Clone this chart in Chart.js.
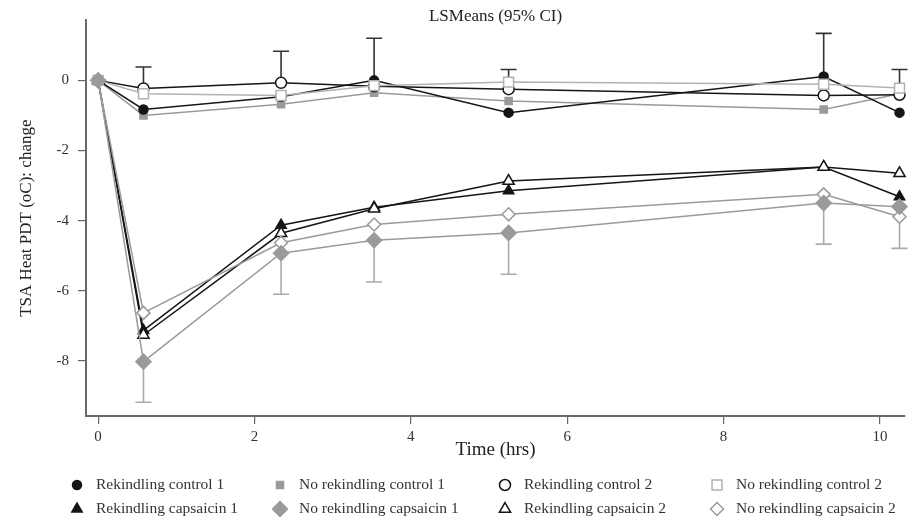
<!DOCTYPE html>
<html lang="en">
<head>
  <meta charset="UTF-8" />
  <title>LSMeans (95% CI)</title>
  <script src="https://cdn.jsdelivr.net/npm/chart.js"></script>
  <style>
    body {
      margin: 0;
      padding: 0;
      background: #ffffff;
    }
    #wrap {
      width: 908px;
      height: 522px;
    }
  </style>
</head>
<body>
  <div id="wrap"><canvas id="tsaChart" width="908" height="522"></canvas></div>

  <script>
    // time points (hrs)
    const times = [0, 0.58, 2.34, 3.53, 5.25, 9.28, 10.25];

    // LSMeans per group
    const rekControl1   = [0, -0.83, -0.47, 0.00, -0.92, 0.11, -0.92];
    const noRekControl1 = [0, -1.00, -0.68, -0.35, -0.59, -0.83, -0.38];
    const rekControl2   = [0, -0.23, -0.07, -0.17, -0.25, -0.43, -0.41];
    const noRekControl2 = [0, -0.38, -0.43, -0.15, -0.05, -0.11, -0.22];
    const rekCaps1      = [0, -7.13, -4.13, -3.62, -3.15, -2.47, -3.32];
    const noRekCaps1    = [0, -8.02, -4.93, -4.56, -4.35, -3.50, -3.60];
    const rekCaps2      = [0, -7.26, -4.36, -3.66, -2.87, -2.47, -2.65];
    const noRekCaps2    = [0, -6.63, -4.63, -4.11, -3.82, -3.25, -3.89];

    // one-sided 95% CI limits (null = not drawn)
    const ciUpperRekControl1 = [null, null, null, 1.20, null, 1.34, null];
    const ciUpperRekControl2 = [null, 0.38, 0.83, null, 0.31, null, 0.31];
    const ciLowerNoRekCaps1  = [null, -9.18, -6.10, -5.75, -5.53, -4.67, -4.79];

    // axis ticks
    const xTicks = [0, 2, 4, 6, 8, 10];
    const yTicks = [0, -2, -4, -6, -8];

    const BLACK = '#151515';
    const GRAY = '#9a9a9a';
    const LIGHT = '#b2b2b2';
    const SERIF = "'Liberation Serif', 'DejaVu Serif', serif";

    const pts = arr => arr.map((v, i) => ({ x: times[i], y: v }));

    function series(label, values, opts) {
      return Object.assign({
        label: label,
        data: pts(values),
        borderWidth: 1.5,
        pointBorderWidth: 1.5,
        tension: 0,
        clip: false
      }, opts);
    }

    const datasets = [
      series('Rekindling control 1', rekControl1, {
        borderColor: BLACK, pointStyle: 'circle', pointRadius: 4.5,
        pointBackgroundColor: BLACK, pointBorderColor: BLACK, order: 5,
        ci: ciUpperRekControl1, ciColor: '#333'
      }),
      series('No rekindling control 1', noRekControl1, {
        borderColor: GRAY, pointStyle: 'rect', pointRadius: 5,
        pointBackgroundColor: GRAY, pointBorderColor: GRAY, order: 6
      }),
      series('Rekindling control 2', rekControl2, {
        borderColor: BLACK, pointStyle: 'circle', pointRadius: 5.5,
        pointBackgroundColor: '#fff', pointBorderColor: BLACK, order: 4,
        ci: ciUpperRekControl2, ciColor: '#333'
      }),
      series('No rekindling control 2', noRekControl2, {
        borderColor: LIGHT, pointStyle: 'rect', pointRadius: 7,
        pointBackgroundColor: '#fff', pointBorderColor: LIGHT, order: 1
      }),
      series('Rekindling capsaicin 1', rekCaps1, {
        borderColor: BLACK, pointStyle: 'triangle', pointRadius: 6,
        pointBackgroundColor: BLACK, pointBorderColor: BLACK, order: 7
      }),
      series('No rekindling capsaicin 1', noRekCaps1, {
        borderColor: GRAY, pointStyle: 'rectRot', pointRadius: 7.5,
        pointBackgroundColor: GRAY, pointBorderColor: GRAY, order: 0,
        ci: ciLowerNoRekCaps1, ciColor: '#aaa'
      }),
      series('Rekindling capsaicin 2', rekCaps2, {
        borderColor: BLACK, pointStyle: 'triangle', pointRadius: 6.5,
        pointBackgroundColor: '#fff', pointBorderColor: BLACK, order: 3
      }),
      series('No rekindling capsaicin 2', noRekCaps2, {
        borderColor: GRAY, pointStyle: 'rectRot', pointRadius: 6.5,
        pointBackgroundColor: '#fff', pointBorderColor: GRAY, order: 2
      })
    ];

    // error bars: stem from the mean to the CI limit, with a cap
    const errorBars = {
      id: 'errorBars',
      beforeDatasetsDraw(chart) {
        const { ctx, scales: { x, y } } = chart;
        ctx.save();
        ctx.lineWidth = 1.6;
        chart.data.datasets.forEach(ds => {
          if (!ds.ci) return;
          ctx.strokeStyle = ds.ciColor;
          ds.ci.forEach((lim, i) => {
            if (lim === null) return;
            const px = x.getPixelForValue(times[i]);
            const y0 = y.getPixelForValue(ds.data[i].y);
            const y1 = y.getPixelForValue(lim);
            ctx.beginPath();
            ctx.moveTo(px, y0);
            ctx.lineTo(px, y1);
            ctx.moveTo(px - 8, y1);
            ctx.lineTo(px + 8, y1);
            ctx.stroke();
          });
        });
        ctx.restore();
      }
    };

    // two-row legend in fixed columns
    const gridLegend = {
      id: 'gridLegend',
      afterDraw(chart) {
        const { ctx } = chart;
        const cols = [77, 280, 505, 717];
        const rows = [485, 509];
        ctx.save();
        ctx.font = '15.5px ' + SERIF;
        ctx.textBaseline = 'middle';
        chart.data.datasets.forEach((ds, i) => {
          const cx = cols[i % 4];
          const cy = rows[Math.floor(i / 4)];
          ctx.fillStyle = ds.pointBackgroundColor;
          ctx.strokeStyle = ds.pointBorderColor;
          ctx.lineWidth = ds.pointBorderWidth;
          Chart.helpers.drawPoint(ctx, {
            pointStyle: ds.pointStyle,
            radius: ds.pointRadius,
            rotation: 0,
            borderWidth: ds.pointBorderWidth
          }, cx, cy);
          ctx.fillStyle = '#333';
          ctx.fillText(ds.label, cx + 19, cy);
        });
        ctx.restore();
      }
    };

    new Chart(document.getElementById('tsaChart'), {
      type: 'line',
      data: { datasets: datasets },
      options: {
        responsive: false,
        animation: false,
        layout: { autoPadding: false, padding: { left: 0, right: 3, top: 0, bottom: 56 } },
        plugins: {
          legend: { display: false },
          tooltip: { enabled: false },
          title: {
            display: true,
            text: 'LSMeans (95% CI)',
            fullSize: false,
            color: '#222',
            font: { family: SERIF, size: 17, weight: 'normal' },
            padding: { top: 6, bottom: -6 }
          }
        },
        scales: {
          x: {
            type: 'linear',
            min: -0.155,
            max: 10.32,
            afterBuildTicks: s => { s.ticks = xTicks.map(v => ({ value: v })); },
            afterFit: s => { s.height = 50; },
            grid: { drawOnChartArea: false, drawTicks: true, tickLength: 8, color: '#666', lineWidth: 1.2 },
            border: { display: true, color: '#6a6a6a', width: 2 },
            ticks: { color: '#333', padding: 4, font: { family: SERIF, size: 15 } },
            title: {
              display: true,
              text: 'Time (hrs)',
              color: '#222',
              font: { family: SERIF, size: 19 },
              padding: { top: 0, bottom: 4.6 }
            }
          },
          y: {
            type: 'linear',
            min: -9.57,
            max: 1.71,
            afterBuildTicks: s => { s.ticks = yTicks.map(v => ({ value: v })); },
            afterFit: s => { s.width = 86; },
            grid: { drawOnChartArea: false, drawTicks: true, tickLength: 8, color: '#666', lineWidth: 1.2 },
            border: { display: true, color: '#6a6a6a', width: 2 },
            ticks: { color: '#333', padding: 9, font: { family: SERIF, size: 15 } },
            title: {
              display: true,
              text: 'TSA Heat PDT (oC): change',
              color: '#222',
              font: { family: SERIF, size: 17 },
              padding: { top: 16.8, bottom: 0 }
            }
          }
        }
      },
      plugins: [errorBars, gridLegend]
    });
  </script>
</body>
</html>
